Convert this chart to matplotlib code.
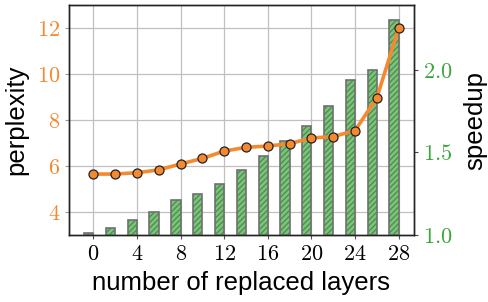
import matplotlib
matplotlib.use("Agg")
import matplotlib.pyplot as plt
from matplotlib.ticker import FuncFormatter, FixedLocator
import numpy as np

layers = [0, 2, 4, 6, 8, 10, 12, 14, 16, 18, 20, 22, 24, 26, 28]
perplexity = [5.65, 5.65, 5.71, 5.83, 6.09, 6.33, 6.65, 6.81, 6.87, 6.97, 7.22, 7.28, 7.54, 8.97, 12.0]
speedup = [1.01, 1.04, 1.09, 1.14, 1.21, 1.25, 1.31, 1.39, 1.48, 1.57, 1.66, 1.78, 1.94, 2.00, 2.30]
xticks = [0, 4, 8, 12, 16, 20, 24, 28]
ppl_ticks = [4, 6, 8, 10, 12]
spd_ticks = [1.0, 1.5, 2.0]

plt.rcParams['mathtext.fontset'] = 'cm'
plt.rcParams['font.family'] = ['Liberation Sans', 'DejaVu Sans']

ORANGE = '#f5892f'
GREEN = '#3ca63c'

fig = plt.figure(figsize=(4.88, 3.02), dpi=100)
ax = fig.add_axes([0.1414, 0.222, 0.7066, 0.761])
ax2 = ax.twinx()
ax3 = ax.twinx()

# base axis: grid + perplexity ticks
ax.set_xlim(-2.23, 29.39)
ax.set_ylim(3.0, 13.0)
ax.set_axisbelow(True)
ax.grid(True, color='#c0c0c0', linewidth=0.9)
ax.xaxis.set_major_locator(FixedLocator(xticks))
ax.yaxis.set_major_locator(FixedLocator(ppl_ticks))
ax.xaxis.set_major_formatter(FuncFormatter(lambda v, p: f'${v:g}$'))
ax.yaxis.set_major_formatter(FuncFormatter(lambda v, p: f'${v:g}$'))
ax.tick_params(axis='y', colors='#999999', labelcolor=ORANGE, labelsize=16, length=3, direction='out')
ax.tick_params(axis='x', colors='#555555', labelcolor='black', labelsize=16, length=3, direction='out')
ax.set_xlabel('number of replaced layers', fontsize=18.5, labelpad=4)
ax.set_ylabel('perplexity', fontsize=18.5, labelpad=6)

# bars: speedup
w = 0.85
xb = np.array(layers) - w / 2
ax2.set_ylim(1.0, 2.39)
ax2.bar(xb, np.array(speedup) - 1.0, bottom=1.0, width=w, color='#7cc47c', edgecolor='#4e8f4e',
        hatch='//////', linewidth=0)
ax2.bar(xb, np.array(speedup) - 1.0, bottom=1.0, width=w, fill=False, edgecolor='#707070', linewidth=1.2)
ax2.yaxis.set_major_locator(FixedLocator(spd_ticks))
ax2.yaxis.set_major_formatter(FuncFormatter(lambda v, p: f'${v:.1f}$'))
ax2.tick_params(axis='y', colors='#444444', labelcolor=GREEN, labelsize=16, length=3, direction='out')
ax2.set_ylabel('speedup', fontsize=18.5, labelpad=8)

# line: perplexity
ax3.set_ylim(ax.get_ylim())
ax3.plot(layers, perplexity, color=ORANGE, linewidth=2.6, marker='o', markersize=6.5,
         markerfacecolor=ORANGE, markeredgecolor='#222222', markeredgewidth=0.9, clip_on=False)
ax3.set_yticks([])
for s in ax3.spines.values():
    s.set_visible(False)

for a in (ax, ax2):
    for s in a.spines.values():
        s.set_color('#222222')
        s.set_linewidth(1.0)

fig.savefig('out.png', dpi=100)
